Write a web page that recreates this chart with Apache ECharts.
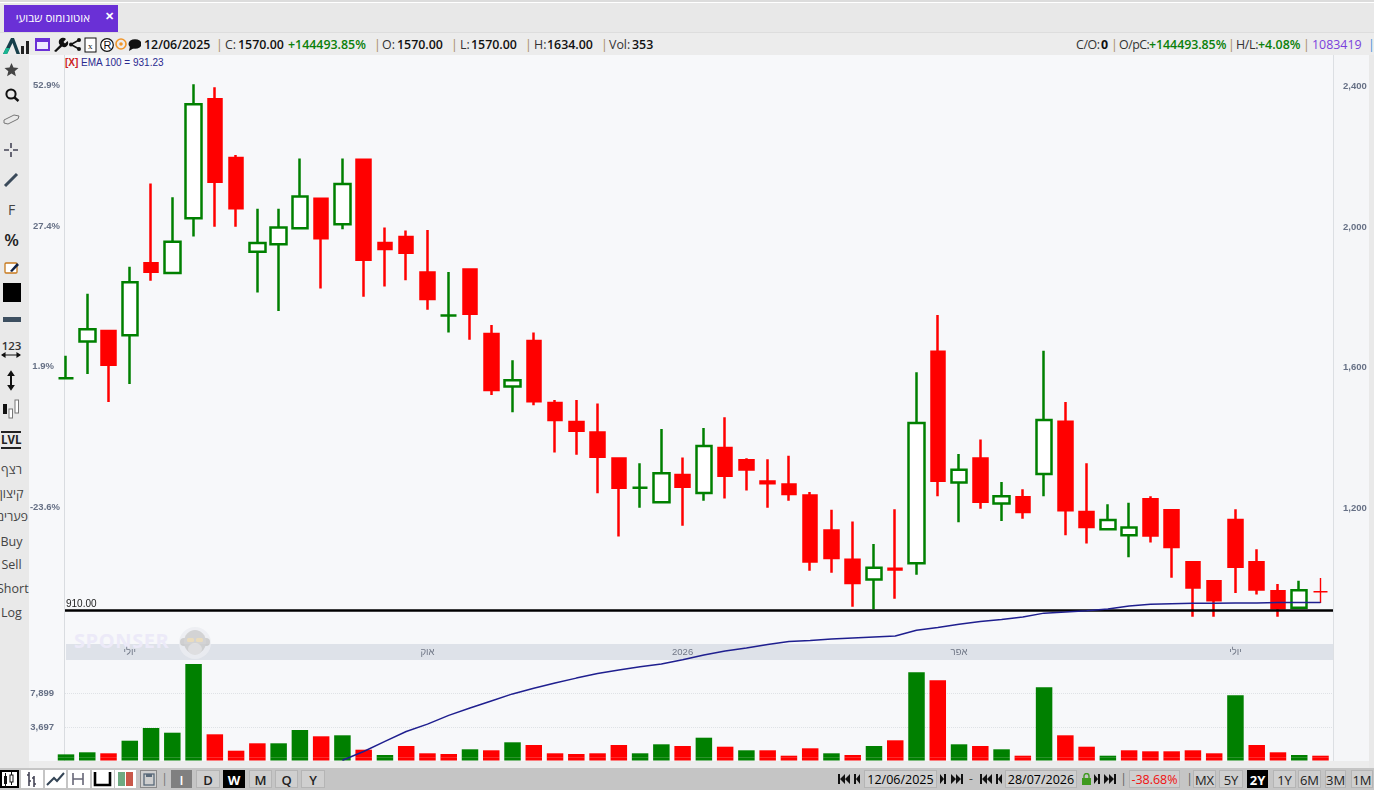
<!DOCTYPE html>
<html><head><meta charset="utf-8">
<script src="https://cdn.jsdelivr.net/npm/echarts@6/dist/echarts.min.js"></script>
<style>
html,body{margin:0;padding:0;width:1380px;height:794px;overflow:hidden;background:#fff;font-family:"Open Sans",sans-serif}
.b{position:absolute}
.t{position:absolute;white-space:nowrap;font-family:"Open Sans",sans-serif}
#chart{position:absolute;left:0;top:0;width:1380px;height:794px}
.h{top:37px;font-size:12.4px;line-height:16px;color:#111;font-weight:600}
.l{font-weight:400;color:#333}
.g{color:#0a800a}
.sep{font-weight:400;color:#a58a5a}
.tb{left:0;width:29px;text-align:center;font-size:12.5px;line-height:16px;color:#444}
.btn{position:absolute;top:770px;height:18px;line-height:18px;text-align:center;font-size:13px;font-weight:600;color:#222;background:#cfcfcf;border:1px solid #b5b5b5;box-sizing:border-box}
.btn.on{background:#000;color:#fff;border-color:#000;font-weight:700}
.ic{position:absolute;top:770px;height:18px;background:#fff;box-sizing:border-box}
.nav{position:absolute;top:774px;height:10px;fill:#111}
</style></head><body>
<svg width="0" height="0" style="position:absolute"><defs>
<symbol id="bb" viewBox="0 0 12 10"><path d="M0 0h2v10h-2zM7 0v10l-5-5zM12 0v10l-5-5z"/></symbol>
<symbol id="bk" viewBox="0 0 6 10"><path d="M0 0h2v10h-2zM6 0v10l-4-5z"/></symbol>
<symbol id="fw" viewBox="0 0 6 10"><path d="M4 0h2v10h-2zM0 0v10l4-5z"/></symbol>
<symbol id="ff" viewBox="0 0 12 10"><path d="M10 0h2v10h-2zM0 0v10l5-5zM5 0v10l5-5z"/></symbol>
</defs></svg>
<!-- frame -->
<div class="b" style="left:0;top:0;width:1374px;height:2px;background:#dcdcdc"></div>
<div class="b" style="left:0;top:3px;width:1374px;height:30px;background:#e8e8e8;border-bottom:1px solid #dddddd;box-sizing:border-box"></div>
<div class="b" style="left:4px;top:5px;width:114px;height:27px;background:#6a30d6"></div>
<div class="t" dir="rtl" style="left:16px;top:10px;width:74px;font-size:11.5px;line-height:16px;color:#fff;text-align:center">אוטונומוס שבועי</div>
<div class="t" style="left:105px;top:8px;font-size:11px;line-height:16px;color:#fff;font-weight:700">✕</div>
<div class="b" style="left:0;top:33px;width:1374px;height:22px;background:#ececec"></div>
<div class="b" style="left:0;top:55px;width:29px;height:713px;background:#e9e9e9"></div>
<div class="b" style="left:29px;top:55px;width:1304px;height:707px;background:#f7f8fa"></div>
<div class="b" style="left:1333px;top:55px;width:36px;height:707px;background:#f5f6f8;border-left:1px solid #dcdfe3;box-sizing:border-box"></div>
<div class="b" style="left:1369px;top:55px;width:5px;height:713px;background:#e9e9e9"></div>
<div class="b" style="left:64px;top:55px;width:1px;height:707px;background:#d9dce0"></div>
<div class="b" style="left:66px;top:644px;width:1267px;height:16px;background:#dee2e9"></div>
<div class="b" style="left:29px;top:761px;width:1340px;height:7px;background:#ececec"></div>
<!-- watermark -->
<div class="t" style="left:74px;top:627px;font-size:20px;line-height:28px;font-weight:700;color:#eceaf8;letter-spacing:.6px;font-family:'Open Sans'">SPONSER</div>
<svg class="b" style="left:178px;top:625px;opacity:.8" width="34" height="36" viewBox="0 0 34 36"><circle cx="17" cy="18" r="16" fill="#eceef2"/><circle cx="6" cy="17" r="4" fill="#c6c6c6"/><circle cx="28" cy="17" r="4" fill="#c6c6c6"/><ellipse cx="17" cy="17" rx="11" ry="12" fill="#cbcbcb"/><ellipse cx="17" cy="24" rx="7" ry="6" fill="#dedede"/><rect x="9" y="13" width="7" height="4" rx="1.5" fill="#e8d6ae"/><rect x="18" y="13" width="7" height="4" rx="1.5" fill="#e8d6ae"/></svg>
<!-- header -->
<svg class="b" style="left:2px;top:36px" width="30" height="19" viewBox="0 0 30 19"><path d="M1 18 L9 2 L12 2 L18 18 L14.5 18 L10.5 7 L5 18Z" fill="#173f4a"/><path d="M1 18 L4 12 L8 12 L5 18Z" fill="#19b591"/><rect x="19" y="10" width="3" height="8" fill="#222"/><rect x="24" y="5" width="3" height="13" fill="#222"/></svg>
<div class="b" style="left:35px;top:38px;width:15px;height:13px;border:2px solid #6a30d6;border-top-width:4px;box-sizing:border-box;background:#efeaff"></div>
<svg class="b" style="left:53px;top:37px" width="88" height="16" viewBox="0 0 88 16"><path d="M1 14 L7 8 A4 4 0 0 1 13 2 L10.5 5 L12 6.5 L14.5 4 A4 4 0 0 1 9 9.5 L3 15Z" fill="#111"/><circle cx="18" cy="7.5" r="2" fill="#111"/><circle cx="26" cy="3" r="2" fill="#111"/><circle cx="26" cy="12" r="2" fill="#111"/><path d="M18 7.5L26 3M18 7.5L26 12" stroke="#111" stroke-width="1.5"/><rect x="32" y="1" width="11" height="14" fill="#fff" stroke="#111"/><text x="35" y="12" font-size="9" fill="#111" font-family="Liberation Serif">x</text><circle cx="54" cy="8" r="6.3" fill="#fff" stroke="#111" stroke-width="1.2"/><text x="50.5" y="12" font-size="11" fill="#111" font-family="Liberation Sans">R</text><circle cx="68" cy="7" r="5" fill="none" stroke="#f0962a" stroke-width="1.6"/><circle cx="68" cy="7" r="1.8" fill="#f0962a"/><ellipse cx="82" cy="7" rx="6.5" ry="4.8" fill="#111"/><path d="M77 9L76 14L81 11Z" fill="#111"/></svg>
<div class="t h" style="left:144px">12/06/2025</div>
<div class="t h sep" style="left:216px">|</div><div class="t h l" style="left:225px">C:</div><div class="t h" style="left:238px">1570.00</div><div class="t h g" style="left:288px">+144493.85%</div>
<div class="t h sep" style="left:374px">|</div><div class="t h l" style="left:382px">O:</div><div class="t h" style="left:397px">1570.00</div>
<div class="t h sep" style="left:451px">|</div><div class="t h l" style="left:460px">L:</div><div class="t h" style="left:471px">1570.00</div>
<div class="t h sep" style="left:525px">|</div><div class="t h l" style="left:534px">H:</div><div class="t h" style="left:547px">1634.00</div>
<div class="t h sep" style="left:601px">|</div><div class="t h l" style="left:609px">Vol:</div><div class="t h" style="left:632px">353</div>
<div class="t h l" style="left:1076px;letter-spacing:-.4px">C/O:</div><div class="t h" style="left:1101px;font-weight:700">0</div><div class="t h sep" style="left:1111px">|</div>
<div class="t h l" style="left:1119px;letter-spacing:-.5px">O/pC:</div><div class="t h g" style="left:1149px;letter-spacing:-.05px">+144493.85%</div><div class="t h sep" style="left:1228px">|</div>
<div class="t h l" style="left:1236px;letter-spacing:-.3px">H/L:</div><div class="t h g" style="left:1258px">+4.08%</div><div class="t h sep" style="left:1303px">|</div>
<div class="t h" style="left:1312px;color:#7a3fdc;font-weight:400">1083419</div><div class="t h" style="left:1368px;color:#4a90d9;font-weight:400">|</div>
<div class="t" style="left:65px;top:56px;font-size:10px;line-height:13px;font-family:'Liberation Sans';color:#c22"><b>[X]</b></div>
<div class="t" style="left:81px;top:56px;font-size:10px;line-height:13px;font-family:'Liberation Sans';color:#2a2a8f">EMA 100 = 931.23</div>
<!-- left toolbar -->
<svg class="b" style="left:0;top:60px" width="29" height="370" viewBox="0 0 29 370">
<path d="M11.5 3l2 4.6 5 .4-3.8 3.3 1.2 4.9-4.4-2.6-4.4 2.6 1.2-4.9L4.5 8l5-.4z" fill="#444"/>
<circle cx="11" cy="34" r="4.6" fill="none" stroke="#111" stroke-width="2"/><path d="M14.5 37.5L18.5 41" stroke="#111" stroke-width="2.4"/>
<path d="M4 60l10-5 5 1-1 3-10 5-4-1z" fill="none" stroke="#777" stroke-width="1"/>
<path d="M4 90h5M13 90h5M11 83v5M11 92v5" stroke="#445" stroke-width="1.6"/>
<path d="M5 126L17 114" stroke="#3a4a5a" stroke-width="3"/>
<rect x="5" y="203" width="12" height="10" rx="1" fill="#fff" stroke="#c77a1e" stroke-width="1.3"/><path d="M10 211l7-8 2 2-7 7z" fill="#124"/>
<rect x="3" y="223" width="18" height="19" fill="#000"/>
<rect x="3" y="257" width="18" height="5" fill="#3d4f60"/>
<path d="M2 295H20M2 295l3-2v4zM20 295l-3-2v4z" stroke="#111" stroke-width="1.1"/>
<path d="M11 312V329M11 312l-2 3h4zM11 329l-2-3h4z" stroke="#111" stroke-width="2"/>
<rect x="3" y="344" width="4" height="10" fill="#111"/><rect x="9" y="349" width="3.5" height="9" fill="#fff" stroke="#777"/><rect x="15" y="340" width="3.5" height="13" fill="#fff" stroke="#777"/>
</svg>
<div class="t tb" style="left:-3px;top:202px;font-size:14px">F</div>
<div class="t tb" style="left:-3px;top:231px;font-size:17px;line-height:18px;font-weight:600;color:#222">%</div>
<div class="t tb" style="left:-3px;top:338px;font-size:11.5px;font-weight:600;color:#333">123</div>
<div class="t tb" style="left:-3px;font-size:11.5px;font-weight:700;color:#222;border-top:2px solid #222;border-bottom:2px solid #222;width:20px;margin-left:4px;line-height:14px;top:431px">LVL</div>
<div class="t tb" dir="rtl" style="left:-3px;top:462px">רצף</div>
<div class="t tb" dir="rtl" style="left:-3px;top:486px">קיצון</div>
<div class="t tb" dir="rtl" style="left:-1px;top:509px">פערים</div>
<div class="t tb" style="left:-3px;top:534px">Buy</div>
<div class="t tb" style="left:-3px;top:557px">Sell</div>
<div class="t tb" style="left:-3px;top:581px">Short</div>
<div class="t tb" style="left:-3px;top:605px">Log</div>
<!-- bottom bar -->
<div class="b" style="left:0;top:768px;width:1374px;height:22px;background:#c5c5c5"></div>
<div class="ic" style="left:0;width:19px;border:2px solid #000"></div>
<div class="ic" style="left:21px;width:22px"></div><div class="ic" style="left:45px;width:21px"></div><div class="ic" style="left:68px;width:22px"></div><div class="ic" style="left:92px;width:22px"></div><div class="ic" style="left:115px;width:21px"></div>
<div class="ic" style="left:140px;width:17px;background:#cfcfcf;border:1px solid #8a8a8a"></div>
<svg class="b" style="left:0;top:770px" width="160" height="18" viewBox="0 0 160 18">
<rect x="4" y="6" width="3" height="8" fill="#111"/><path d="M5.5 3v14M11.5 2v13" stroke="#111"/><rect x="10" y="5" width="3" height="7" fill="#fff" stroke="#111"/>
<path d="M29 2v14M29 5h-2M29 11h2M34 6v11M34 8h-2M34 14h2" stroke="#445" stroke-width="1.6"/>
<path d="M47 15l7-7 3 3 7-8" fill="none" stroke="#345" stroke-width="2"/>
<path d="M73 3v12M83 3v12M73 9h10" stroke="#667" stroke-width="1.6"/>
<path d="M95 2v13h15V2" fill="none" stroke="#000" stroke-width="2.6"/>
<rect x="118" y="2" width="7" height="14" fill="#6eaa82"/><rect x="126" y="2" width="7" height="14" fill="#c9584a"/>
<rect x="144" y="4" width="10" height="11" fill="none" stroke="#5a6a7a" stroke-width="1.3"/><rect x="146" y="4" width="6" height="3" fill="#5a6a7a"/>
</svg>
<div class="t" style="left:161px;top:770px;font-size:13px;line-height:17px;color:#777">|</div>
<div class="btn" style="left:171px;width:21px;background:#808080;color:#fff;border-color:#808080">I</div>
<div class="btn" style="left:196px;width:24px">D</div>
<div class="btn on" style="left:223px;width:22px">W</div>
<div class="btn" style="left:249px;width:23px">M</div>
<div class="btn" style="left:275px;width:23px">Q</div>
<div class="btn" style="left:301px;width:24px">Y</div>
<svg class="nav" style="left:838px" width="12" height="10"><use href="#bb"/></svg>
<svg class="nav" style="left:854px" width="6" height="10"><use href="#bk"/></svg>
<div class="btn" style="left:864px;width:73px;font-weight:500;color:#000;font-size:12.5px">12/06/2025</div>
<svg class="nav" style="left:940px" width="6" height="10"><use href="#fw"/></svg>
<svg class="nav" style="left:951px" width="12" height="10"><use href="#ff"/></svg>
<div class="t" style="left:969px;top:771px;font-size:12px;line-height:16px;color:#444">-</div>
<svg class="nav" style="left:980px" width="12" height="10"><use href="#bb"/></svg>
<svg class="nav" style="left:996px" width="6" height="10"><use href="#bk"/></svg>
<div class="btn" style="left:1005px;width:72px;font-weight:500;color:#000;font-size:12.5px">28/07/2026</div>
<svg class="b" style="left:1081px;top:773px" width="11" height="12" viewBox="0 0 11 12"><rect x="1" y="5" width="9" height="7" fill="#3f9a1f"/><path d="M3 5V3a2.5 2.5 0 0 1 5 0v2" fill="none" stroke="#3f9a1f" stroke-width="1.4"/></svg>
<svg class="nav" style="left:1094px" width="6" height="10"><use href="#fw"/></svg>
<svg class="nav" style="left:1104px" width="12" height="10"><use href="#ff"/></svg>
<div class="t" style="left:1120px;top:770px;font-size:13px;line-height:17px;color:#666">|</div>
<div class="btn" style="left:1129px;width:51px;color:#f01010;font-weight:500;font-size:12.5px">-38.68%</div>
<div class="t" style="left:1186px;top:770px;font-size:13px;line-height:17px;color:#666">|</div>
<div class="btn" style="left:1193px;width:23px;font-weight:500">MX</div>
<div class="btn" style="left:1219px;width:24px;font-weight:500">5Y</div>
<div class="btn on" style="left:1247px;width:21px">2Y</div>
<div class="btn" style="left:1273px;width:23px;font-weight:500">1Y</div>
<div class="btn" style="left:1298px;width:23px;font-weight:500">6M</div>
<div class="btn" style="left:1325px;width:21px;font-weight:500">3M</div>
<div class="btn" style="left:1351px;width:22px;font-weight:500">1M</div>
<div id="chart"></div>
<script>
var categories=["12/06","19/06","26/06","03/07","10/07","17/07","24/07","31/07","07/08","14/08","21/08","28/08","04/09","11/09","18/09","25/09","02/10","09/10","16/10","23/10","30/10","06/11","13/11","20/11","27/11","04/12","11/12","18/12","25/12","01/01","08/01","15/01","22/01","29/01","05/02","12/02","19/02","26/02","05/03","12/03","19/03","26/03","02/04","09/04","16/04","23/04","30/04","07/05","14/05","21/05","28/05","04/06","11/06","18/06","25/06","02/07","09/07","16/07","23/07","30/07"];
var opens=[1570,1674,1704,1692,1897,1869,2025,2364,2197,1930,1951,1997,2081,2008,2192,1955,1972,1871,1748,1879,1696,1546,1676,1499,1445,1415,1341,1258,1217,1294,1243,1371,1336,1276,1267,1236,1136,1053,997,1027,1043,1645,1273,1341,1213,1231,1297,1446,1189,1140,1123,1225,1194,1046,992,1166,1046,963,916,962];
var closes=[1570,1709,1608,1843,1873,1958,2350,2129,2054,1955,1999,2087,1968,2123,1907,1938,1927,1795,1748,1753,1536,1564,1504,1451,1420,1346,1258,1258,1299,1261,1377,1292,1310,1271,1240,1048,1058,987,1030,1025,1442,1278,1309,1218,1234,1189,1451,1194,1146,1166,1145,1122,1089,974,938,1033,968,915,966,962];
var lows=[1570,1582,1502,1553,1847,1869,1973,2001,2001,1814,1761,1997,1825,1994,1802,1831,1849,1765,1700,1679,1522,1473,1493,1358,1352,1242,1119,1201,1217,1150,1221,1227,1250,1201,1221,1022,1016,919,912,942,1010,1234,1160,1198,1163,1170,1234,1123,1099,1140,1060,1102,1002,891,891,958,954,891,916,930];
var highs=[1634,1810,1707,1887,2124,2085,2407,2398,2205,2052,2052,2195,2084,2195,2195,1999,1990,1992,1872,1882,1721,1621,1700,1508,1508,1498,1344,1328,1425,1344,1428,1459,1342,1339,1349,1246,1195,1162,1098,1197,1587,1750,1354,1395,1274,1254,1648,1502,1328,1211,1215,1234,1197,1049,995,1197,1083,984,993,1001];
var greenCandle=[1,1,0,1,0,1,1,0,0,1,1,1,0,1,0,0,0,0,1,0,0,1,0,0,0,0,0,1,1,0,1,0,0,0,0,0,0,0,1,0,1,0,1,0,1,0,1,0,0,1,1,0,0,0,0,0,0,0,1,0];
var volumes=[353,608,484,2041,3611,3030,11521,2832,805,1720,1720,3364,2585,2709,929,274,1386,484,397,978,855,1844,1510,484,397,484,1510,484,1596,1386,2412,1300,855,855,187,1102,484,274,1386,2091,10496,9507,1596,1386,978,187,8642,2709,1300,187,855,731,731,855,484,7653,1510,608,274,187];
var greenVolume=[1,1,0,1,1,1,1,0,0,0,1,1,0,1,0,1,0,0,0,1,0,1,0,0,0,0,0,1,1,0,1,0,1,0,0,0,1,0,1,0,1,0,1,0,1,0,1,0,0,1,0,0,0,0,0,1,0,0,1,0];
var ema100=[null,null,null,null,null,null,null,null,null,null,null,null,null,482,507,536,564,585,610,631,651,671,687,702,716,729,739,748,756,768,782,793,802,812,820,823,827,830,833,836,852,860,869,877,883,890,901,904,908,913,921,926,928,929,929,930,930,931,931,931];
var priceTicks=[1200,1600,2000,2400];
var volumeTicks=[3697,7899];
var baseClose=1570;
var levelValue=910;
var volumeAxisMin=-406;
var monthLabels={3:"יולי",17:"אוק",29:"2026",42:"אפר",55:"יולי"};
var GREEN="#008000",RED="#ff0000";
function ohlc(flag){return categories.map(function(c,i){
  if(greenCandle[i]!==flag) return ['-','-','-','-'];
  var item={value:[opens[i],closes[i],lows[i],highs[i]]};
  if(i===59) item.itemStyle={borderWidth:1.4};
  return item;});}
function volColor(i){return greenVolume[i]?GREEN:RED;}
var labelFont={fontFamily:"Liberation Sans",fontSize:9.5,color:"#667085",fontWeight:"bold"};
var chart=echarts.init(document.getElementById('chart'),null,{renderer:'canvas'});
chart.setOption({
 animation:false,backgroundColor:'transparent',
 grid:[{left:66,top:55,width:1254.5,height:706},{left:66,top:660,width:1254.5,height:100.5}],
 xAxis:[
  {type:'category',gridIndex:0,data:categories,boundaryGap:false,axisLine:{show:false},axisTick:{show:false},axisLabel:{show:false},splitLine:{show:false}},
  {type:'category',gridIndex:1,data:categories,boundaryGap:false,position:'top',axisLine:{show:false},axisTick:{show:false},splitLine:{show:false},
   axisLabel:{interval:function(i){return monthLabels[i]!==undefined;},formatter:function(v,i){return monthLabels[i]||'';},margin:3,fontFamily:"Liberation Sans",fontSize:9.5,color:"#707786",hideOverlap:false}}
 ],
 yAxis:[
  {type:'value',gridIndex:0,position:'right',min:480,max:2490,axisLine:{show:false},axisTick:{show:false},splitLine:{show:false},
   axisLabel:Object.assign({customValues:priceTicks,margin:22.5,align:'left',padding:[0,0,5,0],formatter:function(v){return v.toLocaleString('en-US');}},labelFont)},
  {type:'value',gridIndex:0,position:'left',min:480,max:2490,axisLine:{show:false},axisTick:{show:false},splitLine:{show:false},
   axisLabel:Object.assign({customValues:priceTicks,margin:6,padding:[0,0,2,0],
     rich:{s:Object.assign({padding:[0,6,0,0]},labelFont)},
     formatter:function(v){var s=((v/baseClose-1)*100).toFixed(1)+'%';return s.length<5?'{s|'+s+'}':s;}},labelFont)},
  {type:'value',gridIndex:1,position:'left',min:volumeAxisMin,max:12016,axisLine:{show:false},axisTick:{show:false},splitLine:{show:false},
   axisLabel:Object.assign({customValues:volumeTicks,margin:12,formatter:function(v){return v.toLocaleString('en-US');}},labelFont)}
 ],
 series:[
  {type:'bar',name:'Volume',xAxisIndex:1,yAxisIndex:2,barWidth:16.5,barGap:'-100%',clip:false,z:2,
   data:volumes.map(function(v,i){return {value:v,itemStyle:{color:volColor(i)}};}),
   markLine:{silent:true,z:1,symbol:'none',animation:false,label:{show:false},lineStyle:{color:'#dfe2e6',type:'dotted',width:1},
     data:volumeTicks.map(function(t){return [{x:65,yAxis:t},{x:1333,yAxis:t}];})}},
  {type:'bar',name:'Below zero',xAxisIndex:1,yAxisIndex:2,barWidth:16.5,barGap:'-100%',clip:false,z:2,
   data:volumes.map(function(v,i){return {value:volumeAxisMin,itemStyle:{color:volColor(i)}};})},
  {type:'candlestick',name:'Down',xAxisIndex:0,yAxisIndex:0,barWidth:14,clip:false,z:3,
   itemStyle:{color:RED,color0:RED,borderColor:RED,borderColor0:RED,borderColorDoji:RED,borderWidth:2.5},data:ohlc(0)},
  {type:'candlestick',name:'Up',xAxisIndex:0,yAxisIndex:0,barWidth:16,clip:false,z:4,
   itemStyle:{color:'#ffffff',color0:'#ffffff',borderColor:GREEN,borderColor0:GREEN,borderColorDoji:GREEN,borderWidth:2.5},data:ohlc(1)},
  {type:'line',name:'EMA 100',xAxisIndex:0,yAxisIndex:0,data:ema100,showSymbol:false,connectNulls:false,z:5,
   lineStyle:{color:'#1f1f8f',width:1.5},
   markLine:{silent:true,symbol:'none',animation:false,
     lineStyle:{color:'#000',type:'solid',width:2.6},
     label:{show:true,position:'insideStartTop',formatter:'910.00',fontFamily:'Liberation Sans',fontSize:10,color:'#222',distance:1},
     data:[[{x:65,yAxis:levelValue},{x:1333,yAxis:levelValue}]]}}
 ]
});
</script>
</body></html>
